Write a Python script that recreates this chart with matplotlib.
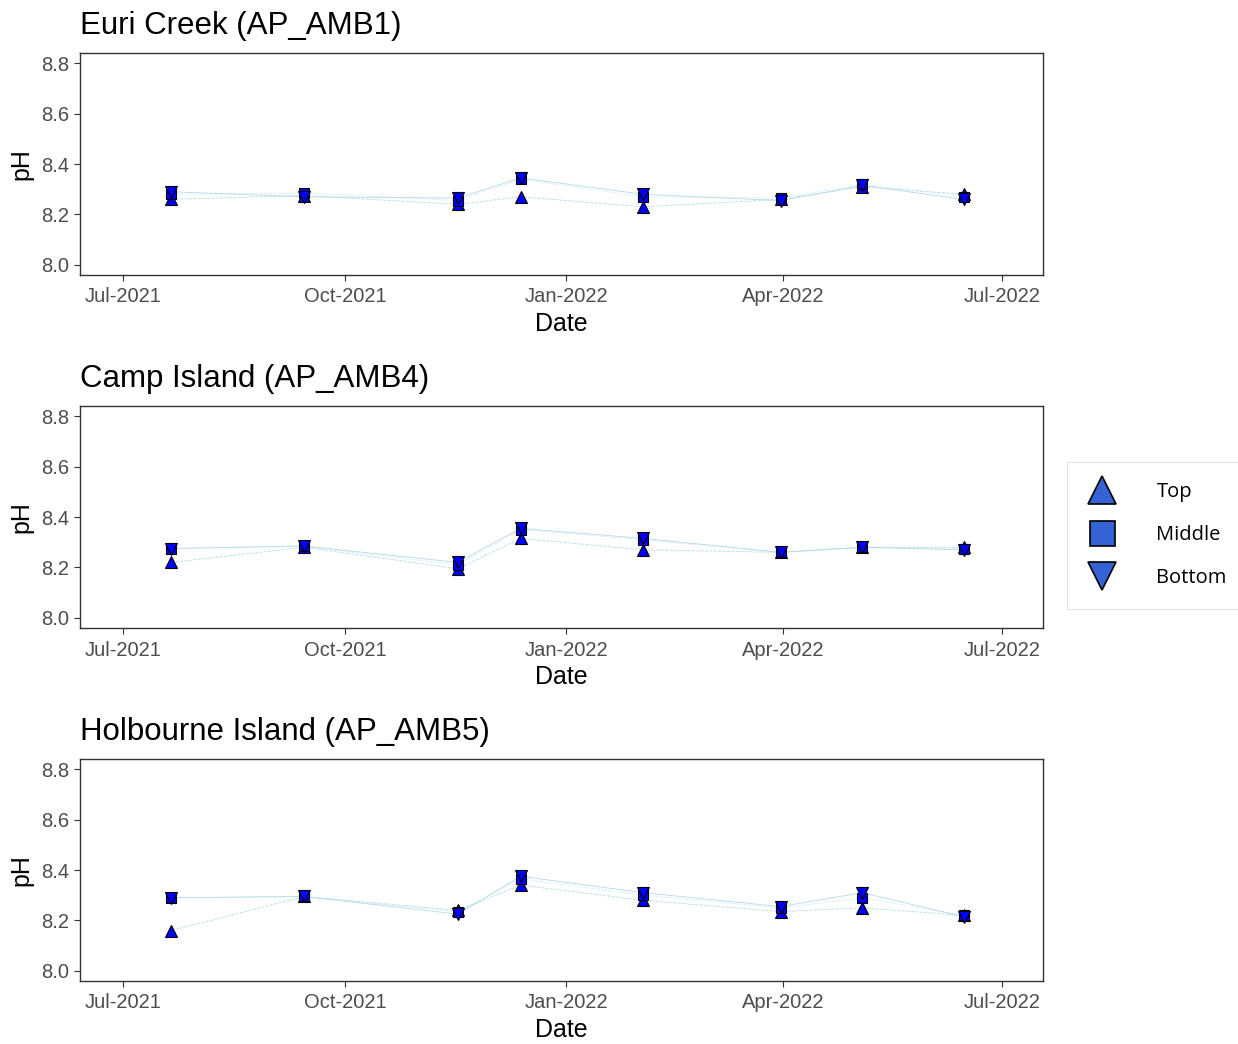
import matplotlib
matplotlib.use("Agg")
import matplotlib.pyplot as plt
import matplotlib.dates as mdates
from matplotlib.lines import Line2D
import numpy as np

plt.rcParams['font.family'] = ['Liberation Sans', 'DejaVu Sans']

# ---- data ----
dates = np.array(['2021-07-21', '2021-09-14', '2021-11-17', '2021-12-13',
                  '2022-02-02', '2022-03-31', '2022-05-04', '2022-06-15'],
                 dtype='datetime64[D]')

sites = ["Euri Creek (AP_AMB1)", "Camp Island (AP_AMB4)", "Holbourne Island (AP_AMB5)"]

euri_top    = [8.26, 8.275, 8.24, 8.27, 8.23, 8.26, 8.31, 8.28]
euri_middle = [8.28, 8.285, 8.255, 8.34, 8.27, 8.265, 8.32, 8.27]
euri_bottom = [8.29, 8.27, 8.265, 8.345, 8.28, 8.255, 8.315, 8.26]

camp_top    = [8.22, 8.28, 8.195, 8.315, 8.27, 8.26, 8.28, 8.28]
camp_middle = [8.275, 8.285, 8.21, 8.35, 8.31, 8.26, 8.28, 8.275]
camp_bottom = [8.275, 8.285, 8.22, 8.355, 8.315, 8.26, 8.28, 8.27]

holb_top    = [8.16, 8.295, 8.24, 8.34, 8.28, 8.235, 8.25, 8.22]
holb_middle = [8.29, 8.295, 8.235, 8.365, 8.30, 8.25, 8.29, 8.22]
holb_bottom = [8.29, 8.295, 8.225, 8.375, 8.31, 8.255, 8.31, 8.215]

site_data = [
    (euri_top, euri_middle, euri_bottom),
    (camp_top, camp_middle, camp_bottom),
    (holb_top, holb_middle, holb_bottom),
]

depths = ["Top", "Middle", "Bottom"]
depth_markers = ["^", "s", "v"]
depth_ms = [9.0, 7.5, 9.0]
depth_ls = ["--", ":", "-"]

yticks = [8.0, 8.2, 8.4, 8.6, 8.8]
xtick_dates = np.array(['2021-07-01', '2021-10-01', '2022-01-01', '2022-04-01', '2022-07-01'],
                       dtype='datetime64[D]')
xlim_dates = np.array(['2021-06-13', '2022-07-18'], dtype='datetime64[D]')

# ---- figure ----
W, H = 1238, 1044
fig = plt.figure(figsize=(W / 100, H / 100), dpi=100)

left = 80 / W
width = (1043 - 80) / W
panel_tops = [53, 406, 759]
panel_h = 222

for i, (site, vals) in enumerate(zip(sites, site_data)):
    top_px = panel_tops[i]
    ax = fig.add_axes([left, 1 - (top_px + panel_h) / H, width, panel_h / H])
    for v, ls in zip(vals, depth_ls):
        ax.plot(dates, v, color='#b3dbea', lw=0.6, ls=ls, zorder=2)
    for v, mk, ms in zip(vals, depth_markers, depth_ms):
        ax.plot(dates, v, ls='none', marker=mk, ms=ms, mfc='#0000ff',
                mec='black', mew=0.8, zorder=3)
    ax.set_ylim(7.96, 8.84)
    ax.set_yticks(yticks)
    ax.set_yticklabels([f"{t:.1f}" for t in yticks])
    ax.set_xlim(xlim_dates[0], xlim_dates[1])
    ax.set_xticks(xtick_dates)
    ax.xaxis.set_major_formatter(mdates.DateFormatter('%b-%Y'))
    ax.tick_params(axis='both', colors='#333333', labelcolor='#4d4d4d',
                   labelsize=14.5, length=4, width=0.8)
    ax.tick_params(axis='x', pad=5)
    for s in ax.spines.values():
        s.set_color('#333333')
        s.set_linewidth(1.0)
    ax.set_xlabel("Date", fontsize=18, color='black', labelpad=4)
    ax.set_ylabel("pH", fontsize=18, color='black', labelpad=6)
    ax.set_title(site, loc='left', fontsize=22.5, color='black', pad=14)

# ---- legend ----
leg_color = '#3563d6'
handles = [Line2D([], [], ls='none', marker=m, ms=m_s, mfc=leg_color,
                  mec='black', mew=1.2)
           for m, m_s in zip(depth_markers, [20, 18, 20])]
leg = fig.legend(handles, depths, loc='upper left',
                 bbox_to_anchor=(1067 / W, 1 - 462 / H),
                 frameon=True, fancybox=False, edgecolor='#dddddd',
                 prop={'family': 'Open Sans', 'size': 14.5},
                 labelspacing=1.15, handletextpad=1.94, borderpad=1.0,
                 handlelength=1.5, borderaxespad=0)
leg.get_frame().set_linewidth(0.8)

fig.savefig("out.png", dpi=100)
